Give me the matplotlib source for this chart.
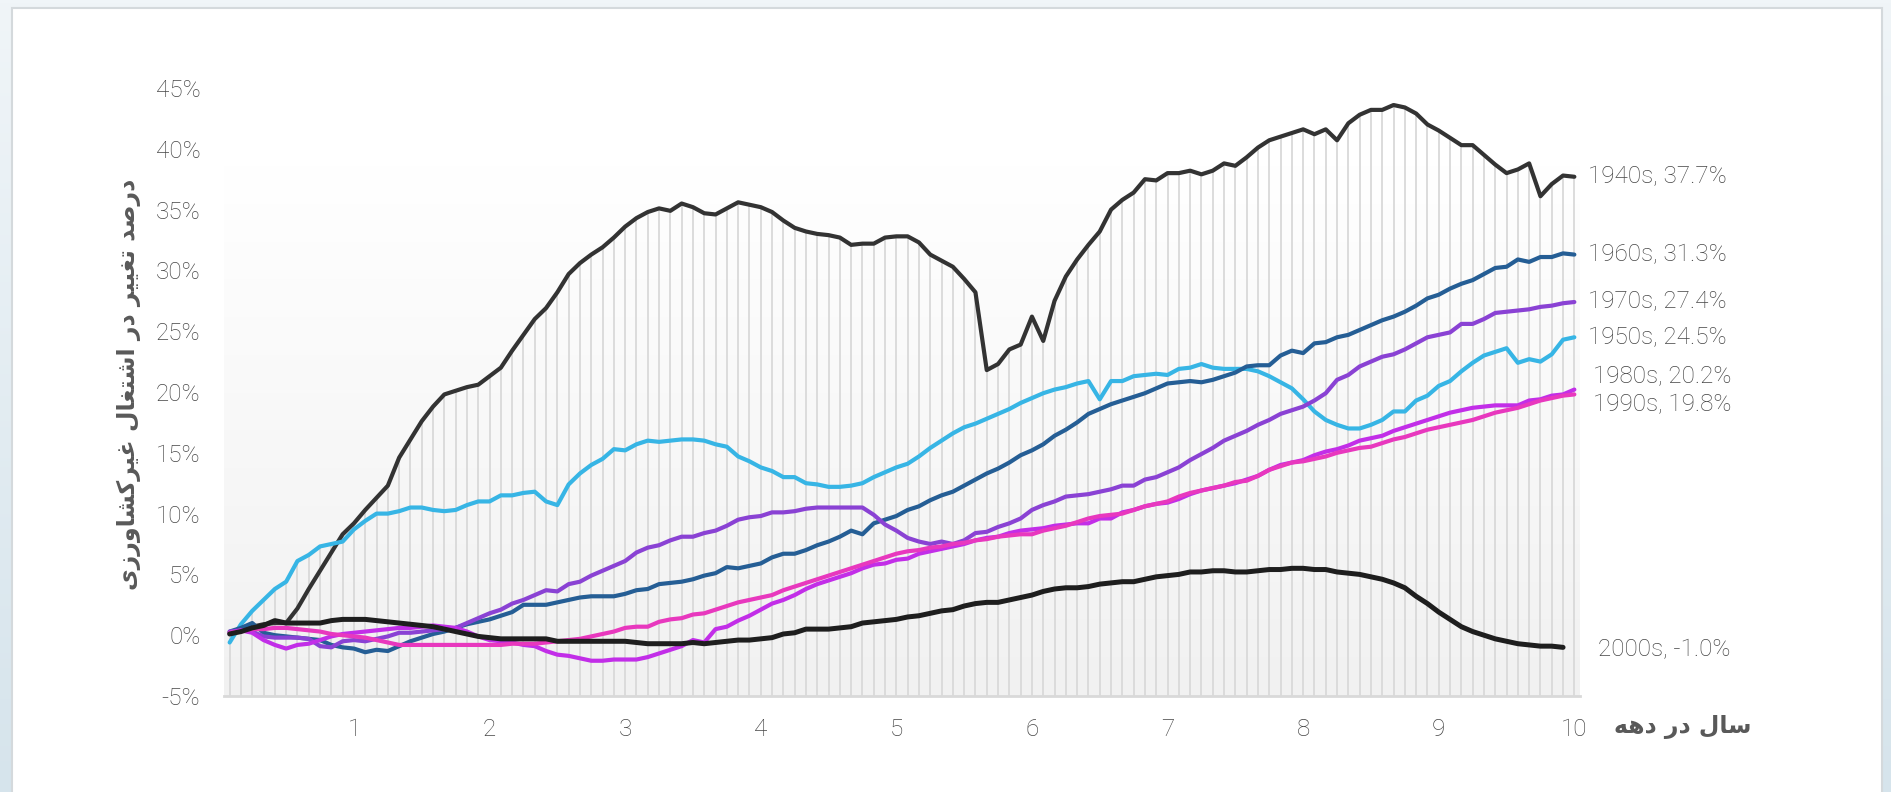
import numpy as np
import matplotlib
matplotlib.use('Agg')
import matplotlib.pyplot as plt
from matplotlib.patches import Rectangle

# Cumulative change in non-farm employment (%) by month since the start of each decade
months = np.arange(1, 121)

s1940s = [0.2, 0.5, 0.7, 0.9, 1.0, 1.0, 2.2, 3.8, 5.3, 6.8, 8.3, 9.2, 10.3, 11.3, 12.3, 14.6, 16.1, 17.6, 18.8, 19.8,
          20.1, 20.4, 20.6, 21.3, 22.0, 23.4, 24.7, 26.0, 26.9, 28.2, 29.7, 30.6, 31.3, 31.9, 32.7, 33.6, 34.3, 34.8, 35.1, 34.9,
          35.5, 35.2, 34.7, 34.6, 35.1, 35.6, 35.4, 35.2, 34.8, 34.1, 33.5, 33.2, 33.0, 32.9, 32.7, 32.1, 32.2, 32.2, 32.7, 32.8,
          32.8, 32.3, 31.3, 30.8, 30.3, 29.3, 28.2, 21.8, 22.3, 23.5, 23.9, 26.2, 24.2, 27.5, 29.5, 30.9, 32.1, 33.2, 35.0, 35.8,
          36.4, 37.5, 37.4, 38.0, 38.0, 38.2, 37.9, 38.2, 38.8, 38.6, 39.3, 40.1, 40.7, 41.0, 41.3, 41.6, 41.2, 41.6, 40.7, 42.1,
          42.8, 43.2, 43.2, 43.6, 43.4, 42.9, 42.0, 41.5, 40.9, 40.3, 40.3, 39.5, 38.7, 38.0, 38.3, 38.8, 36.1, 37.1, 37.8, 37.7]

s1950s = [-0.6, 0.9, 2.0, 2.9, 3.8, 4.4, 6.1, 6.6, 7.3, 7.5, 7.7, 8.7, 9.4, 10.0, 10.0, 10.2, 10.5, 10.5, 10.3, 10.2,
          10.3, 10.7, 11.0, 11.0, 11.5, 11.5, 11.7, 11.8, 11.0, 10.7, 12.4, 13.3, 14.0, 14.5, 15.3, 15.2, 15.7, 16.0, 15.9, 16.0,
          16.1, 16.1, 16.0, 15.7, 15.5, 14.7, 14.3, 13.8, 13.5, 13.0, 13.0, 12.5, 12.4, 12.2, 12.2, 12.3, 12.5, 13.0, 13.4, 13.8,
          14.1, 14.7, 15.4, 16.0, 16.6, 17.1, 17.4, 17.8, 18.2, 18.6, 19.1, 19.5, 19.9, 20.2, 20.4, 20.7, 20.9, 19.4, 20.9, 20.9,
          21.3, 21.4, 21.5, 21.4, 21.9, 22.0, 22.3, 22.0, 21.9, 21.9, 21.9, 21.7, 21.3, 20.8, 20.3, 19.4, 18.4, 17.7, 17.3, 17.0,
          17.0, 17.3, 17.7, 18.4, 18.4, 19.3, 19.7, 20.5, 20.9, 21.7, 22.4, 23.0, 23.3, 23.6, 22.4, 22.7, 22.5, 23.1, 24.3, 24.5]

s1960s = [0.3, 0.6, 1.0, 0.2, 0.0, -0.1, -0.2, -0.3, -0.4, -0.8, -1.0, -1.1, -1.4, -1.2, -1.3, -0.9, -0.5, -0.2, 0.1, 0.3,
          0.6, 0.9, 1.1, 1.3, 1.6, 1.9, 2.5, 2.5, 2.5, 2.7, 2.9, 3.1, 3.2, 3.2, 3.2, 3.4, 3.7, 3.8, 4.2, 4.3,
          4.4, 4.6, 4.9, 5.1, 5.6, 5.5, 5.7, 5.9, 6.4, 6.7, 6.7, 7.0, 7.4, 7.7, 8.1, 8.6, 8.3, 9.2, 9.5, 9.8,
          10.3, 10.6, 11.1, 11.5, 11.8, 12.3, 12.8, 13.3, 13.7, 14.2, 14.8, 15.2, 15.7, 16.4, 16.9, 17.5, 18.2, 18.6, 19.0, 19.3,
          19.6, 19.9, 20.3, 20.7, 20.8, 20.9, 20.8, 21.0, 21.3, 21.6, 22.1, 22.2, 22.2, 23.0, 23.4, 23.2, 24.0, 24.1, 24.5, 24.7,
          25.1, 25.5, 25.9, 26.2, 26.6, 27.1, 27.7, 28.0, 28.5, 28.9, 29.2, 29.7, 30.2, 30.3, 30.9, 30.7, 31.1, 31.1, 31.4, 31.3]

s1970s = [0.3, 0.4, 0.3, -0.1, -0.2, -0.2, -0.2, -0.3, -0.9, -1.0, -0.5, -0.4, -0.5, -0.3, -0.1, 0.2, 0.2, 0.3, 0.4, 0.5,
          0.6, 1.0, 1.4, 1.8, 2.1, 2.6, 2.9, 3.3, 3.7, 3.6, 4.2, 4.4, 4.9, 5.3, 5.7, 6.1, 6.8, 7.2, 7.4, 7.8,
          8.1, 8.1, 8.4, 8.6, 9.0, 9.5, 9.7, 9.8, 10.1, 10.1, 10.2, 10.4, 10.5, 10.5, 10.5, 10.5, 10.5, 9.9, 9.1, 8.6,
          8.0, 7.7, 7.5, 7.7, 7.5, 7.8, 8.4, 8.5, 8.9, 9.2, 9.6, 10.3, 10.7, 11.0, 11.4, 11.5, 11.6, 11.8, 12.0, 12.3,
          12.3, 12.8, 13.0, 13.4, 13.8, 14.4, 14.9, 15.4, 16.0, 16.4, 16.8, 17.3, 17.7, 18.2, 18.5, 18.8, 19.3, 19.9, 21.0, 21.4,
          22.1, 22.5, 22.9, 23.1, 23.5, 24.0, 24.5, 24.7, 24.9, 25.6, 25.6, 26.0, 26.5, 26.6, 26.7, 26.8, 27.0, 27.1, 27.3, 27.4]

s1980s = [0.2, 0.4, 0.2, -0.4, -0.8, -1.1, -0.8, -0.7, -0.4, -0.1, 0.1, 0.2, 0.3, 0.4, 0.5, 0.6, 0.6, 0.7, 0.8, 0.7,
          0.6, 0.3, -0.1, -0.4, -0.5, -0.6, -0.8, -0.9, -1.3, -1.6, -1.7, -1.9, -2.1, -2.1, -2.0, -2.0, -2.0, -1.8, -1.5, -1.2,
          -0.9, -0.4, -0.6, 0.5, 0.7, 1.2, 1.6, 2.1, 2.6, 2.9, 3.3, 3.8, 4.2, 4.5, 4.8, 5.1, 5.5, 5.8, 5.9, 6.2,
          6.3, 6.7, 6.9, 7.1, 7.3, 7.5, 7.8, 8.0, 8.1, 8.4, 8.6, 8.7, 8.8, 9.0, 9.1, 9.2, 9.2, 9.6, 9.6, 10.1,
          10.3, 10.6, 10.8, 10.9, 11.2, 11.6, 11.9, 12.1, 12.3, 12.5, 12.8, 13.1, 13.6, 14.0, 14.2, 14.4, 14.8, 15.1, 15.3, 15.6,
          16.0, 16.2, 16.4, 16.8, 17.1, 17.4, 17.7, 18.0, 18.3, 18.5, 18.7, 18.8, 18.9, 18.9, 18.9, 19.3, 19.4, 19.7, 19.8, 20.2]

s1990s = [0.2, 0.3, 0.5, 0.5, 0.6, 0.6, 0.5, 0.4, 0.3, 0.1, 0.0, -0.1, -0.2, -0.4, -0.6, -0.8, -0.8, -0.8, -0.8, -0.8,
          -0.8, -0.8, -0.8, -0.8, -0.8, -0.7, -0.7, -0.7, -0.6, -0.5, -0.4, -0.3, -0.1, 0.1, 0.3, 0.6, 0.7, 0.7, 1.1, 1.3,
          1.4, 1.7, 1.8, 2.1, 2.4, 2.7, 2.9, 3.1, 3.3, 3.7, 4.0, 4.3, 4.6, 4.9, 5.2, 5.5, 5.8, 6.1, 6.4, 6.7,
          6.9, 7.0, 7.2, 7.3, 7.5, 7.6, 7.8, 7.9, 8.1, 8.2, 8.3, 8.3, 8.6, 8.8, 9.0, 9.3, 9.6, 9.8, 9.9, 10.0,
          10.3, 10.6, 10.8, 11.0, 11.4, 11.7, 11.9, 12.1, 12.3, 12.6, 12.7, 13.1, 13.6, 13.9, 14.2, 14.3, 14.5, 14.7, 15.0, 15.2,
          15.4, 15.5, 15.8, 16.1, 16.3, 16.6, 16.9, 17.1, 17.3, 17.5, 17.7, 18.0, 18.3, 18.5, 18.7, 19.0, 19.3, 19.5, 19.7, 19.8]

# the 2000s decade only has 119 months
s2000s = [0.1, 0.3, 0.6, 0.8, 1.2, 1.0, 1.0, 1.0, 1.0, 1.2, 1.3, 1.3, 1.3, 1.2, 1.1, 1.0, 0.9, 0.8, 0.7, 0.5,
          0.3, 0.1, -0.1, -0.2, -0.3, -0.3, -0.3, -0.3, -0.3, -0.5, -0.5, -0.5, -0.5, -0.5, -0.5, -0.5, -0.6, -0.7, -0.7, -0.7,
          -0.7, -0.6, -0.7, -0.6, -0.5, -0.4, -0.4, -0.3, -0.2, 0.1, 0.2, 0.5, 0.5, 0.5, 0.6, 0.7, 1.0, 1.1, 1.2, 1.3,
          1.5, 1.6, 1.8, 2.0, 2.1, 2.4, 2.6, 2.7, 2.7, 2.9, 3.1, 3.3, 3.6, 3.8, 3.9, 3.9, 4.0, 4.2, 4.3, 4.4,
          4.4, 4.6, 4.8, 4.9, 5.0, 5.2, 5.2, 5.3, 5.3, 5.2, 5.2, 5.3, 5.4, 5.4, 5.5, 5.5, 5.4, 5.4, 5.2, 5.1,
          5.0, 4.8, 4.6, 4.3, 3.9, 3.2, 2.6, 1.9, 1.3, 0.7, 0.3, 0.0, -0.3, -0.5, -0.7, -0.8, -0.9, -0.9, -1.0]

decades = ['1940s', '1950s', '1960s', '1970s', '1980s', '1990s', '2000s']
series = [s1940s, s1950s, s1960s, s1970s, s1980s, s1990s, s2000s]
colors = ['#333333', '#37b5e5', '#255e95', '#8a42d4', '#c22ee8', '#e838be', '#1e1e1e']
widths = [3.0, 3.0, 3.0, 3.0, 3.0, 3.0, 3.6]
# end label offsets (pixels) so close labels don't collide
label_offset = {'1980s': (19, 13), '1990s': (19, -10), '2000s': (35, -2)}

year_ticks = [12, 24, 36, 48, 60, 72, 84, 96, 108, 120]
year_labels = ['1', '2', '3', '4', '5', '6', '7', '8', '9', '10']
y_ticks = [-5, 0, 5, 10, 15, 20, 25, 30, 35, 40, 45]

y_title = 'درصد تغییر در اشتغال غیرکشاورزی'
x_title = 'سال در دهه'

# presentation forms: isolated, final, initial, medial
FORMS = {
    'ا': (0xFE8D, 0xFE8E, None, None),
    'د': (0xFEA9, 0xFEAA, None, None),
    'ر': (0xFEAD, 0xFEAE, None, None),
    'ز': (0xFEAF, 0xFEB0, None, None),
    'و': (0xFEED, 0xFEEE, None, None),
    'ت': (0xFE95, 0xFE96, 0xFE97, 0xFE98),
    'س': (0xFEB1, 0xFEB2, 0xFEB3, 0xFEB4),
    'ش': (0xFEB5, 0xFEB6, 0xFEB7, 0xFEB8),
    'ص': (0xFEB9, 0xFEBA, 0xFEBB, 0xFEBC),
    'غ': (0xFECD, 0xFECE, 0xFECF, 0xFED0),
    'ل': (0xFEDD, 0xFEDE, 0xFEDF, 0xFEE0),
    'ه': (0xFEE9, 0xFEEA, 0xFEEB, 0xFEEC),
    'ی': (0xFBFC, 0xFBFD, 0xFBFE, 0xFBFF),
    'ک': (0xFB8E, 0xFB8F, 0xFB90, 0xFB91),
}


def shape_rtl(text):
    # matplotlib has no Arabic shaping, so pick the joined glyphs and reverse
    out = []
    for i, ch in enumerate(text):
        if ch not in FORMS:
            out.append(ch)
            continue
        prev = text[i - 1] if i > 0 else ''
        nxt = text[i + 1] if i + 1 < len(text) else ''
        iso, fin, ini, med = FORMS[ch]
        join_prev = prev in FORMS and FORMS[prev][2] is not None
        join_next = ini is not None and nxt in FORMS
        if join_prev and join_next:
            cp = med
        elif join_prev:
            cp = fin
        elif join_next:
            cp = ini
        else:
            cp = iso
        out.append(chr(cp))
    return ''.join(reversed(out))


plt.rcParams['font.family'] = ['Roboto', 'DejaVu Sans']
text_color = '#595959'
num_color = '#454545'

fig = plt.figure(figsize=(18.91, 7.92), dpi=100)
W, H = 1891, 792

# light blue page behind a white card
bg = fig.add_axes([0, 0, 1, 1], zorder=-10)
grad = np.linspace(0, 1, 256).reshape(-1, 1)
bg.imshow(grad, aspect='auto', cmap=matplotlib.colors.LinearSegmentedColormap.from_list(
    'page', ['#f0f5f8', '#d6e4ec']), extent=[0, 1, 0, 1], origin='upper')
bg.add_patch(Rectangle((12 / W, -0.01), (1882 - 12) / W, 1 - 8 / H + 0.01,
                       facecolor='white', edgecolor='#d4d9dc', lw=1.5))
bg.set_xlim(0, 1)
bg.set_ylim(0, 1)
bg.axis('off')

ax = fig.add_axes([224 / W, 1 - 696 / H, (1580 - 224) / W, (696 - 88) / H])
ax.set_xlim(0.5, 120.5)
ax.set_ylim(-5, 45)
ax.patch.set_alpha(0)

# soft gray gradient in the lower part of the plot area, fading to white at the top
shade = np.linspace(0, 1, 256).reshape(-1, 1)
ax.imshow(shade, aspect='auto', extent=[0.5, 120.5, -5, 38.6], origin='upper',
          cmap=matplotlib.colors.LinearSegmentedColormap.from_list('shade', ['#ffffff', '#f1f1f1']),
          zorder=0)

# drop lines from the highest series down to the axis
padded = np.full((len(series), len(months)), np.nan)
for i, s in enumerate(series):
    padded[i, :len(s)] = s
top = np.nanmax(padded, axis=0)
ax.vlines(months, -5, top, color='#d9d9d9', lw=1.3, zorder=1)

tick_font = dict(family=['Roboto', 'DejaVu Sans'], weight='light', size=17.5)

for name, s, c, w in zip(decades, series, colors, widths):
    x = months[:len(s)]
    ax.plot(x, s, color=c, lw=w, solid_joinstyle='round', solid_capstyle='round', zorder=3)
    ax.annotate(f'{name}, {s[-1]:.1f}%', xy=(x[-1], s[-1]), xytext=label_offset.get(name, (14, 0)),
                textcoords='offset pixels', ha='left', va='center', color=num_color,
                annotation_clip=False, **tick_font)

ax.set_xticks(year_ticks)
ax.set_xticklabels(year_labels, fontdict=tick_font)
ax.set_yticks(y_ticks)
ax.set_yticklabels([f'{v}%' for v in y_ticks], fontdict=tick_font)
ax.tick_params(axis='both', length=0, labelcolor=num_color)
ax.tick_params(axis='y', pad=17)
ax.tick_params(axis='x', pad=16)

for side in ['top', 'right', 'left']:
    ax.spines[side].set_visible(False)
ax.spines['bottom'].set_color('#d9d9d9')
ax.spines['bottom'].set_linewidth(2)
ax.spines['bottom'].set_zorder(2)

ax.set_ylabel(shape_rtl(y_title), fontsize=17, fontweight='bold', color=text_color,
              family=['DejaVu Sans'])
ax.yaxis.set_label_coords(-0.061, 0.513)
ax.text(1.076, -0.051, shape_rtl(x_title), transform=ax.transAxes, ha='center', va='center',
        fontsize=17, fontweight='bold', color=text_color, family=['DejaVu Sans'])

fig.savefig('out.png', dpi=100)
